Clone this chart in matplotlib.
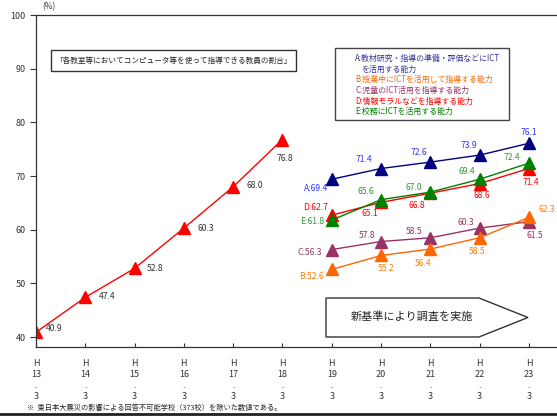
import matplotlib
matplotlib.use("Agg")
import matplotlib.pyplot as plt
import matplotlib.patches as patches
from matplotlib.lines import Line2D

plt.rcParams['font.family'] = ['Noto Sans CJK JP', 'DejaVu Sans']

# 年度ラベル
years = ["13", "14", "15", "16", "17", "18", "19", "20", "21", "22", "23"]

# 旧基準 (H13-H18)
old_vals = [40.9, 47.4, 52.8, 60.3, 68.0, 76.8]

# 新基準 (H19-H23)
a_vals = [69.4, 71.4, 72.6, 73.9, 76.1]
b_vals = [52.6, 55.2, 56.4, 58.5, 62.3]
c_vals = [56.3, 57.8, 58.5, 60.3, 61.5]
d_vals = [62.7, 65.1, 66.8, 68.6, 71.4]
e_vals = [61.8, 65.6, 67.0, 69.4, 72.4]

legend_lines = [
    "A:教材研究・指導の準備・評価などにICT",
    "を活用する能力",
    "B:授業中にICTを活用して指導する能力",
    "C:児童のICT活用を指導する能力",
    "D:情報モラルなどを指導する能力",
    "E:校務にICTを活用する能力",
]

W, H = 557, 416
fig = plt.figure(figsize=(W / 100, H / 100), dpi=100)
ax_l, ax_r, ax_t, ax_b = 36, 557, 15, 347
ax = fig.add_axes([ax_l / W, 1 - ax_b / H, (ax_r - ax_l) / W, (ax_b - ax_t) / H])

ax.set_xlim(0, 10.57)
ax.set_ylim(38.15, 100)
ax.spines['right'].set_visible(False)
for s in ['left', 'top', 'bottom']:
    ax.spines[s].set_linewidth(0.9)
    ax.spines[s].set_color('#333333')

ax.set_yticks([40, 50, 60, 70, 80, 90, 100])
ax.tick_params(axis='y', direction='out', length=4, labelsize=6.5, colors='#333333')
ax.set_xticks(range(len(years)))
ax.set_xticklabels(["H\n" + y + "\n.\n3" for y in years], linespacing=1.25)
ax.tick_params(axis='x', direction='in', length=3, labelsize=6.5, pad=9, colors='#333333')

# 旧基準の線
x_old = list(range(len(old_vals)))
ax.plot(x_old, old_vals, color='#FF0000', lw=1, marker='^', ms=9, mec='#FF0000', mfc='#FF0000')
old_off = [(18, 4), (22, 1), (21, 0), (22, 0), (22, 1), (2, -19)]
for x, v, (dx, dy) in zip(x_old, old_vals, old_off):
    ax.annotate(f"{v:.1f}", (x, v), xytext=(dx, dy), textcoords='offset pixels',
                ha='center', va='center', fontsize=6.2, color='#333333', zorder=5)

# 新基準の線
x_new = list(range(6, 11))
series = [
    ("A", a_vals, '#000080', '#3333FF',
     [(-4, -9), (-17, 9), (-11, 10), (-11, 10), (0, 11)]),
    ("D", d_vals, '#FF0000', '#FF0000',
     [(-4, 8), (-11, -11), (-14, -12), (2, -12), (2, -14)]),
    ("E", e_vals, '#008000', '#339933',
     [(-7, -1), (-15, 8), (-17, 5), (-13, 8), (-17, 6)]),
    ("C", c_vals, '#993366', '#993366',
     [(-10, -3), (-14, 6), (-16, 6), (-14, 6), (6, -14)]),
    ("B", b_vals, '#FF6600', '#FF8000',
     [(-8, -7), (5, -13), (-7, -14), (-3, -14), (18, 8)]),
]
for name, vals, col, tcol, offs in series:
    ax.plot(x_new, vals, color=col, lw=1, marker='^', ms=9, mec=col, mfc=col)
    for i, (x, v, (dx, dy)) in enumerate(zip(x_new, vals, offs)):
        if i == 0:
            ax.annotate(f"{name}:{v:.1f}", (x, v), xytext=(dx, dy), textcoords='offset pixels',
                        ha='right', va='center', fontsize=6.2, color=tcol, zorder=5)
        else:
            ax.annotate(f"{v:.1f}", (x, v), xytext=(dx, dy), textcoords='offset pixels',
                        ha='center', va='center', fontsize=6.2, color=tcol, zorder=5)

# 矢印型の枠
def afx(px):
    return (px - ax_l) / (ax_r - ax_l)

def afy(py):
    return 1 - (py - ax_t) / (ax_b - ax_t)

pent = patches.Polygon([(afx(326), afy(298)), (afx(479), afy(298)), (afx(528), afy(317.5)),
                        (afx(479), afy(337)), (afx(326), afy(337))],
                       closed=True, transform=ax.transAxes, facecolor='white',
                       edgecolor='#333333', lw=1, zorder=1)
ax.add_patch(pent)
ax.text(afx(412), afy(317), "新基準により調査を実施", transform=ax.transAxes,
        ha='center', va='center', fontsize=8, color='#222222')

# タイトル枠
fig.add_artist(patches.Rectangle((51 / W, 1 - 71 / H), (296 - 51) / W, (71 - 50) / H,
                                 transform=fig.transFigure, facecolor='white',
                                 edgecolor='#333333', lw=1))
fig.text(173.5 / W, 1 - 60.5 / H, "「各教室等においてコンピュータ等を使って指導できる教員の割合」",
         ha='center', va='center', fontsize=5.5, color='#222222')

# 凡例枠
fig.add_artist(patches.Rectangle((335 / W, 1 - 120 / H), (509 - 335) / W, (120 - 48) / H,
                                 transform=fig.transFigure, facecolor='white',
                                 edgecolor='#444444', lw=1))
leg_cols = ['#333399', '#333399', '#FF6600', '#993366', '#FF0000', '#008000']
leg_x = [355, 361, 355, 355, 355, 355]
leg_y = [58, 69, 79.5, 90, 101, 111]
for txt, c, x, y in zip(legend_lines, leg_cols, leg_x, leg_y):
    fig.text(x / W, 1 - y / H, txt, ha='left', va='center', fontsize=5.7, color=c)

fig.text(42 / W, 1 - 7 / H, "(%)", ha='left', va='center', fontsize=6, color='#333333')
fig.text(27 / W, 1 - 408 / H, "※  東日本大震災の影響による回答不可能学校（373校）を除いた数値である。",
         ha='left', va='center', fontsize=5.2, color='#222222')
fig.add_artist(Line2D([0, 1], [1 - 414 / H, 1 - 414 / H], transform=fig.transFigure,
                      color='#222222', lw=2))

fig.savefig("out.png", dpi=100)
